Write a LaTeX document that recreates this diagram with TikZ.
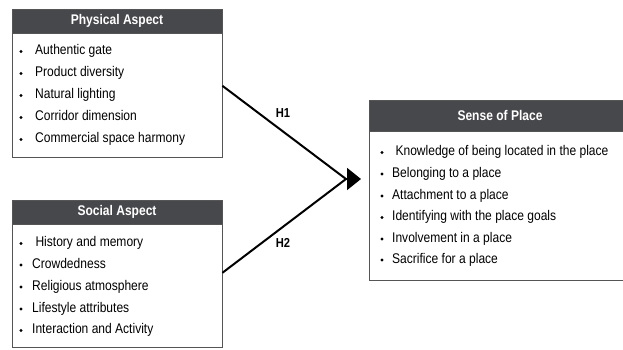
\documentclass[tikz,border=0pt]{standalone}
\usepackage{fontspec}
\setmainfont{Liberation Sans}
\newfontfamily\narrowsans[FakeStretch=0.86]{Liberation Sans}
\usepackage{xcolor}
\usetikzlibrary{arrows.meta,positioning}
\definecolor{head}{HTML}{47484B}
\definecolor{edge}{HTML}{555555}
\tikzset{
  headbox/.style={draw=edge,fill=head,text=white,line width=0.8pt,inner sep=0pt,
    font=\narrowsans\fontsize{14}{16}\selectfont\bfseries},
  bodybox/.style={draw=edge,fill=white,line width=0.8pt,inner sep=0pt},
  item/.style={anchor=west,inner sep=0pt,text height=10.5pt,text depth=4pt,
    font=\narrowsans\fontsize{14}{16}\selectfont},
  dot/.style={circle,fill=black,inner sep=0pt,minimum size=3.2pt},
  link/.style={line width=2pt,draw=black},
  tag/.style={font=\narrowsans\fontsize{13}{15}\selectfont\bfseries}
}
\begin{document}
\begin{tikzpicture}[x=1pt,y=-1pt]
  \useasboundingbox (0,0) rectangle (623,349);
  % boxes
  \node[headbox,minimum width=210pt,minimum height=24pt] (phead) at (117,21) {Physical Aspect};
  \node[bodybox,minimum width=210pt,minimum height=124pt,below=0pt of phead] (pbody) {};
  \node[headbox,minimum width=210pt,minimum height=24pt] (shead) at (117,212) {Social Aspect};
  \node[bodybox,minimum width=210pt,minimum height=123pt,below=0pt of shead] (sbody) {};
  \node[headbox,minimum width=262pt,minimum height=31pt] (ohead) at (500,115.5) {Sense of Place};
  \node[bodybox,minimum width=262pt,minimum height=149pt,below=0pt of ohead] (obody) {};
  % bullet lists
  \foreach \y/\txt [count=\i] in {51.5/Authentic gate,73.5/Product diversity,95.5/Natural lighting,
      117.5/Corridor dimension,139.5/Commercial space harmony}{
    \node[dot] (pd\i) at (21,\y) {};
    \node[item] (pi\i) at (35,\y) {\txt};
  }
  \foreach \y/\txt [count=\i] in {243.5/\ History and memory,265/Crowdedness,287/Religious atmosphere,
      309/Lifestyle attributes,330.5/Interaction and Activity}{
    \node[dot] (sd\i) at (21,\y) {};
    \node[item] (si\i) at (32,\y) {\txt};
  }
  \foreach \y/\txt [count=\i] in {152.5/\ Knowledge of being located in the place,174/Belonging to a place,
      196/Attachment to a place,217.5/Identifying with the place goals,239/Involvement in a place,
      260/Sacrifice for a place}{
    \node[dot] (od\i) at (382,\y) {};
    \node[item] (oi\i) at (392,\y) {\txt};
  }
  % hypotheses
  \coordinate (hub) at (346,179);
  \coordinate (tip) at (361,179);
  \draw[link] ([yshift=10pt]pbody.east) -- (hub);
  \draw[link] ([yshift=13.5pt]sbody.east) -- (hub);
  \draw[link,-{Triangle[length=14pt,width=22pt]}] (hub) -- (tip);
  \node[tag] (h1) at (283,113) {H1};
  \node[tag] (h2) at (283,243) {H2};
\end{tikzpicture}
\end{document}
